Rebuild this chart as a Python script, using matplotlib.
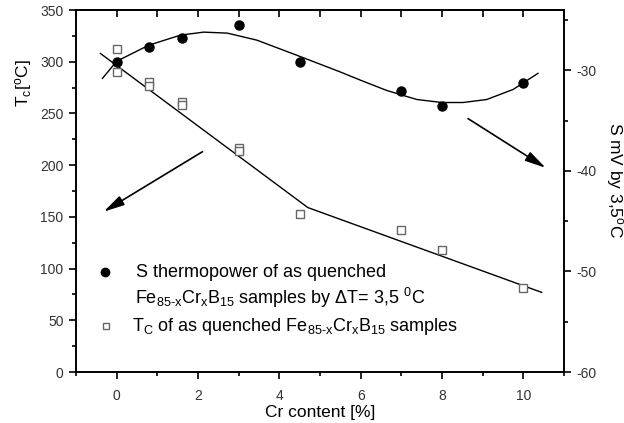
import matplotlib
matplotlib.use("Agg")
import matplotlib.pyplot as plt
from matplotlib.ticker import MultipleLocator

plt.rcParams['font.family'] = ['Liberation Sans', 'DejaVu Sans']
plt.rcParams['mathtext.fontset'] = 'custom'
plt.rcParams['mathtext.rm'] = 'Liberation Sans'
plt.rcParams['mathtext.it'] = 'Liberation Sans'
plt.rcParams['axes.unicode_minus'] = False

# ---- data ----
# S thermopower (right axis, mV)
s_x = [0, 0.8, 1.6, 3, 4.5, 7, 8, 10]
s_val = [-29.2, -27.7, -26.8, -25.5, -29.2, -32.1, -33.5, -31.3]
# smooth curve through S (as drawn in the original)
s_curve_x = [-0.35, 0, 0.79, 1.57, 2.14, 2.72, 3.45, 4.43, 5.46, 6.07,
             6.64, 7.38, 8.0, 8.52, 9.10, 9.75, 10.36]
s_curve_y = [-30.8, -29.1, -27.5, -26.5, -26.2, -26.3, -27.0, -28.5, -30.1, -31.1,
             -32.0, -32.9, -33.2, -33.2, -32.9, -31.9, -30.3]

# Tc (left axis, deg C)
tc_x = [0, 0, 0.8, 0.8, 1.6, 1.6, 3, 3, 4.5, 7, 8, 10]
tc_val = [312, 290, 280, 277, 261, 258, 217, 214, 153, 137, 118, 81]
# two straight lines through Tc
tc_line_x = [-0.4, 4.7, 10.45]
tc_line_y = [308, 159, 77]

fig = plt.figure(figsize=(6.24, 4.23), dpi=100)
ax = fig.add_axes([76/624, 51/423, 488/624, 362/423])
ax2 = ax.twinx()

ax.plot(tc_line_x, tc_line_y, color='black', lw=1.0)
ax.plot(tc_x, tc_val, ls='none', marker='s', ms=6, mfc='white', mec='#666666', mew=1.0)
ax2.plot(s_curve_x, s_curve_y, color='black', lw=1.0)
ax2.plot(s_x, s_val, ls='none', marker='o', ms=6.5, color='black')

ax.set_xlim(-1, 11)
ax.set_ylim(0, 350)
ax2.set_ylim(-60, -24)

ax.xaxis.set_major_locator(MultipleLocator(2))
ax.xaxis.set_minor_locator(MultipleLocator(1))
ax.yaxis.set_major_locator(MultipleLocator(50))
ax.yaxis.set_minor_locator(MultipleLocator(25))
ax2.yaxis.set_major_locator(MultipleLocator(10))
ax2.yaxis.set_minor_locator(MultipleLocator(5))

tick_col = '#333333'
ax.tick_params(axis='x', which='major', direction='out', length=5, width=1.2, pad=7,
               labelsize=10, labelcolor=tick_col)
ax.tick_params(axis='x', which='minor', direction='out', length=3, width=1.2)
ax.tick_params(axis='y', which='major', direction='out', length=5, width=1.2, pad=4,
               labelsize=10, labelcolor=tick_col)
ax.tick_params(axis='y', which='minor', direction='out', length=3, width=1.2)
ax2.tick_params(axis='y', which='major', direction='out', length=5, width=1.2, pad=4,
                labelsize=10, labelcolor=tick_col)
ax2.tick_params(axis='y', which='minor', direction='out', length=3, width=1.2)

# top axis: inward ticks at every integer, no labels
top = ax.secondary_xaxis('top')
top.xaxis.set_major_locator(MultipleLocator(1))
top.tick_params(direction='in', length=5, width=1.2, labeltop=False)

for a in (ax, ax2):
    for sp in a.spines.values():
        sp.set_linewidth(1.2)
top.spines['top'].set_linewidth(1.2)

# arrows pointing to the respective axes
arr = dict(arrowstyle='-|>,head_length=0.9,head_width=0.22', color='black', lw=1.2,
           mutation_scale=14, shrinkA=0, shrinkB=0)
ax.annotate('', xy=(-0.32, 155), xytext=(2.11, 213), arrowprops=arr)
ax2.annotate('', xy=(10.55, -39.7), xytext=(8.64, -34.8), arrowprops=arr)

# legend drawn by hand
leg_fs = 13
sub = r'$_{\mathregular{85\text{-}x}}$'
ax.plot([0.059], [0.276], transform=ax.transAxes, marker='o', ms=6, color='black', clip_on=False)
ax.plot([0.062], [0.127], transform=ax.transAxes, marker='s', ms=5, mfc='white',
        mec='#666666', mew=1.0, clip_on=False)
ax.text(0.123, 0.276, 'S thermopower of as quenched', transform=ax.transAxes,
        fontsize=leg_fs, va='center', ha='left')
ax.text(0.121, 0.204, 'Fe' + sub + r'Cr$_{\mathregular{x}}$B$_{\mathregular{15}}$ samples by ΔT= 3,5 $^{\mathregular{0}}$C',
        transform=ax.transAxes, fontsize=leg_fs, va='center', ha='left')
ax.text(0.115, 0.127, r'T$_{\mathregular{C}}$ of as quenched Fe' + sub + r'Cr$_{\mathregular{x}}$B$_{\mathregular{15}}$ samples',
        transform=ax.transAxes, fontsize=leg_fs, va='center', ha='left')

# axis labels
fig.text(0.038, 0.804, r'T$_{\mathregular{c}}$[$^{\mathregular{o}}$C]', rotation=90,
         fontsize=12.5, ha='center', va='center')
fig.text(0.984, 0.574, r'S mV by 3,5$^{\mathregular{o}}$C', rotation=270,
         fontsize=12.5, ha='center', va='center')
fig.text(0.513, 0.024, 'Cr content [%]', fontsize=12.5, ha='center', va='center')

fig.savefig('out.png', dpi=100)
plt.close('all')
